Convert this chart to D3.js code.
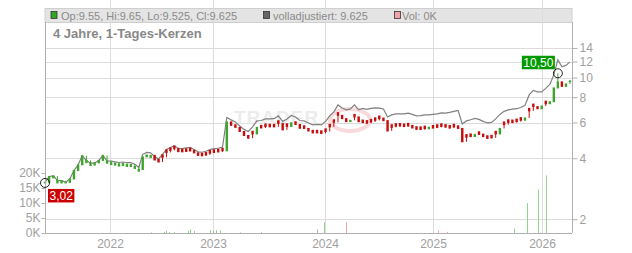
<!DOCTYPE html>
<html><head><meta charset="utf-8">
<script src="https://cdnjs.cloudflare.com/ajax/libs/d3/7.8.5/d3.min.js"></script>
<style>body{margin:0;background:#fff}svg{display:block;font-family:"Liberation Sans",Arial,sans-serif}</style>
</head><body><svg id="c" width="632" height="253"></svg>
<script>
// ---- data ----
const startDate = "2021-05-26";
const stepDays = 14;
const closes = [
3.04,3.25,3.27,3.11,3.10,3.04,3.16,3.48,3.71,4.11,
3.90,3.78,3.79,3.90,4.13,3.88,3.80,3.78,3.75,3.77,
3.73,3.73,3.64,3.52,4.06,4.15,4.13,3.92,3.83,4.04,
4.27,4.37,4.46,4.31,4.30,4.32,4.35,4.25,4.13,4.11,
4.15,4.24,4.27,4.30,4.35,6.04,5.81,5.68,5.42,5.18,
5.02,5.27,5.68,5.64,5.73,5.71,5.71,5.94,5.52,5.74,
5.98,5.87,5.62,5.61,5.45,5.33,5.33,5.30,5.42,5.71,
6.01,6.51,6.27,6.06,6.15,6.39,6.06,5.99,5.95,6.04,
6.15,6.27,6.13,5.45,5.68,5.75,5.76,5.73,5.77,5.64,
5.55,5.54,5.59,5.69,5.63,5.68,5.74,5.69,5.63,5.71,
5.61,4.82,5.08,5.12,5.24,5.24,5.11,5.01,5.04,5.27,
5.61,5.86,6.01,5.99,6.06,6.16,6.32,6.85,7.19,7.02,
7.24,7.43,7.60,8.89,9.52,9.05,9.30,9.63];
const opens = [
3.02,3.04,3.20,3.02,3.02,3.02,3.04,3.16,3.48,3.71,
3.80,3.68,3.70,3.79,3.90,3.78,3.72,3.70,3.66,3.68,
3.64,3.64,3.56,3.45,3.52,4.06,4.03,4.13,3.95,4.16,
4.40,4.50,4.59,4.46,4.43,4.45,4.48,4.38,4.25,4.23,
4.27,4.37,4.40,4.43,4.48,4.35,6.04,5.85,5.68,5.42,
5.18,5.43,5.27,5.81,5.90,5.88,5.88,6.12,5.94,5.91,
5.74,6.05,5.87,5.78,5.61,5.49,5.49,5.46,5.58,5.88,
6.19,6.71,6.51,6.27,6.06,6.58,6.39,6.17,6.13,6.22,
6.33,6.46,6.31,6.13,5.85,5.92,5.93,5.90,5.94,5.81,
5.72,5.71,5.76,5.59,5.80,5.85,5.91,5.86,5.80,5.88,
5.78,5.61,5.23,5.27,5.12,5.40,5.26,5.16,5.19,5.43,
5.27,6.04,6.19,6.17,6.24,6.34,6.16,7.05,7.40,7.19,
7.02,7.65,7.43,7.60,8.89,9.52,9.05,9.55];
const adjusted = [
3.04,3.25,3.27,3.11,3.10,3.04,3.16,3.48,3.71,4.11,
3.90,3.78,3.79,3.90,4.13,3.88,3.87,3.84,3.81,3.83,
3.80,3.81,3.73,3.60,4.18,4.27,4.25,4.08,3.97,4.18,
4.42,4.52,4.61,4.47,4.46,4.50,4.52,4.42,4.30,4.28,
4.33,4.41,4.46,4.48,4.54,6.36,6.18,6.04,5.77,5.55,
5.42,5.71,6.11,6.14,6.25,6.25,6.27,6.47,6.08,6.25,
6.50,6.39,6.14,6.11,5.97,5.84,5.87,5.84,6.08,6.47,
6.77,7.33,7.08,6.93,7.00,7.33,6.93,7.04,6.96,7.04,
7.08,7.06,7.00,6.39,6.54,6.62,6.62,6.62,6.67,6.58,
6.47,6.49,6.54,6.54,6.58,6.62,6.69,6.67,6.73,6.81,
6.89,5.90,6.11,6.19,6.29,6.22,6.08,5.97,6.01,6.25,
6.58,6.81,6.93,6.98,7.02,7.12,7.29,8.21,8.64,8.50,
8.50,8.84,9.25,10.31,12.22,11.29,11.48,11.95];
const volDates = ["2022-05-25","2022-07-11","2022-07-18","2022-07-28","2022-08-15","2022-10-03","2022-10-10","2022-10-27","2022-12-21","2023-01-02","2023-01-11","2023-01-25","2023-03-31","2023-06-06","2023-12-06","2023-12-28","2024-03-12","2025-01-17","2025-02-17","2025-09-30","2025-11-12","2025-12-18","2026-01-16"];
const volValues = [0.2,0.4,0.7,0.3,0.3,0.7,1.2,0.7,0.9,0.8,0.9,0.9,0.2,0.3,1.2,3.6,3.6,0.9,0.4,1.5,10,14.5,19.2];
const volDir = ["up","up","up","up","up","up","up","flat","up","flat","flat","up","up","up","flat","up","down","down","down","up","up","up","up"];
const priceTicks = [2,4,6,8,10,12,14];
const volTicks = [0,5,10,15,20];
const yearTicks = ["2022-01-01","2023-01-01","2024-01-01","2025-01-01","2026-01-01"];
const axisBreaks = ["2021-05-26","2022-01-01","2023-01-01","2024-01-01","2025-01-01","2026-01-01","2026-04-15"];
const minMark = {i:0, value:3.02, label:"3,02"};
const maxMark = {i:124, value:10.50, label:"10,50"};
const legendTexts = ["Op:9.55, Hi:9.65, Lo:9.525, Cl:9.625","volladjustiert: 9.625","Vol: 0K"];
const title = "4 Jahre, 1-Tages-Kerzen";

// ---- layout ----
const L=45, R=572, T=22, B=233;
const parse = d3.timeParse("%Y-%m-%d");
const t0 = parse(startDate);
const dates = closes.map((_,i)=>d3.timeDay.offset(t0, i*stepDays));
const svg = d3.select("#c");
const x = d3.scaleTime().domain(axisBreaks.map(parse)).range([45,110,213,325,433,542,572]);
const y = d3.scaleLog().domain([1.71,18.8]).range([B,T]);
const yv = d3.scaleLinear().domain([0,70.33]).range([B,T]);
const GRID="#dcdcdc", TXT="#a0a0a0";

// legend bar
svg.append("rect").attr("x",L).attr("y",8.5).attr("width",R-L).attr("height",14).attr("fill","#e4e4e4").attr("stroke","#cfcfcf");

// gridlines
svg.append("g").selectAll("line").data(priceTicks).join("line")
  .attr("x1",L).attr("x2",R).attr("y1",d=>Math.round(y(d))+0.5).attr("y2",d=>Math.round(y(d))+0.5)
  .attr("stroke",GRID);
svg.append("g").selectAll("line").data(yearTicks.map(parse)).join("line")
  .attr("x1",d=>Math.round(x(d))+0.5).attr("x2",d=>Math.round(x(d))+0.5).attr("y1",0).attr("y2",B)
  .attr("stroke",GRID);

// watermark
svg.append("text").attr("x",234).attr("y",124).attr("font-size",19).attr("font-weight","bold")
  .attr("fill","#ececec").attr("letter-spacing",1).text("TRADER");
svg.append("ellipse").attr("cx",350).attr("cy",120).attr("rx",20).attr("ry",11)
  .attr("fill","none").attr("stroke","#f9dadc").attr("stroke-width",4);

// volume
const volColor = {up:"#8fd48f", down:"#f0a3ab", flat:"#b5b5b5"};
svg.append("g").selectAll("rect").data(volDates).join("rect")
  .attr("x",(d)=>Math.round(x(parse(d)))).attr("width",1)
  .attr("y",(d,i)=>yv(volValues[i])).attr("height",(d,i)=>B-yv(volValues[i]))
  .attr("fill",(d,i)=>volColor[volDir[i]]);

// adjusted line
svg.append("path").datum(adjusted)
  .attr("d",d3.line().x((d,i)=>x(dates[i])).y(d=>y(d)))
  .attr("fill","none").attr("stroke","#808080").attr("stroke-width",1.2);

// candles
const UP="#3fa52f", DN="#c40d0d";
const col = (i)=>closes[i]>=opens[i]?UP:DN;
// wicks: range spanned since the previous close
svg.append("g").selectAll("line").data(closes).join("line")
  .attr("x1",(d,i)=>x(dates[i])).attr("x2",(d,i)=>x(dates[i]))
  .attr("y1",(d,i)=>y(Math.max(d,opens[i],i>0?closes[i-1]:d)))
  .attr("y2",(d,i)=>y(Math.min(d,opens[i],i>0?closes[i-1]:d)))
  .attr("stroke",(d,i)=>col(i)).attr("stroke-width",1);
svg.append("g").selectAll("rect").data(closes).join("rect")
  .attr("x",(d,i)=>x(dates[i])-1.2).attr("width",2.4)
  .attr("y",(d,i)=>Math.min(y(d),y(opens[i]))-0.5)
  .attr("height",(d,i)=>Math.max(1.5,Math.abs(y(d)-y(opens[i]))+1))
  .attr("fill",(d,i)=>col(i));
// high wick for max candle
svg.append("line").attr("x1",x(dates[maxMark.i])).attr("x2",x(dates[maxMark.i]))
  .attr("y1",y(maxMark.value)).attr("y2",y(closes[maxMark.i])).attr("stroke",UP).attr("stroke-width",1);

// axes
const axR = svg.append("g").attr("transform",`translate(${R+0.5},0)`)
  .call(d3.axisRight(y).tickValues(priceTicks).tickFormat(d3.format("d")).tickSize(5).tickPadding(2));
const axL = svg.append("g").attr("transform",`translate(${L+0.5},0)`)
  .call(d3.axisLeft(yv).tickValues(volTicks).tickFormat(d=>d+"K").tickSize(4).tickPadding(1));
const axB = svg.append("g").attr("transform",`translate(0,${B+0.5})`)
  .call(d3.axisBottom(x).tickValues(yearTicks.map(parse)).tickFormat(d3.timeFormat("%Y")).tickSize(0).tickPadding(6));
[axR,axL,axB].forEach(a=>{
  a.selectAll("text").attr("font-size",12).attr("fill",TXT).attr("font-family","Liberation Sans, Arial, sans-serif");
  a.selectAll("line").attr("stroke","#b0b0b0");
  a.select(".domain").attr("stroke","#b0b0b0");
});
axR.select(".domain").attr("d",`M0,${T}V${B}`);
axL.select(".domain").attr("d",`M0,${T}V${B}`);
axB.select(".domain").attr("d",`M${L},0H${R}`);

// legend
const lg = svg.append("g").attr("font-size",11).attr("fill","#8a8a8a");
const sq = [{x:51,c:"#33a61f"},{x:263.5,c:"#666"},{x:394.5,c:"#f0a3ab"}];
const tx = [61,273,402];
sq.forEach((s,k)=>{
  lg.append("rect").attr("x",s.x).attr("y",11.5).attr("width",6).attr("height",7).attr("fill",s.c).attr("stroke","#333").attr("stroke-width",0.8);
  lg.append("text").attr("x",tx[k]).attr("y",19.5).text(legendTexts[k]);
});

// title
svg.append("text").attr("x",53).attr("y",38).attr("font-size",13).attr("font-weight","bold").attr("fill","#888").text(title);

// min / max markers
function marker(m, color, below){
  const cx = x(dates[m.i]), cy = y(m.value);
  const g = svg.append("g");
  const t = g.append("text").attr("font-size",12).attr("fill","#fff").text(m.label);
  const w = t.node().getComputedTextLength()+3;
  let bx, by;
  if(below){ bx = cx+3; by = cy+6; } else { bx = cx-3-w; by = cy-17.5; }
  g.insert("rect","text").attr("x",bx).attr("y",by).attr("width",w).attr("height",13.5).attr("fill",color);
  t.attr("x",bx+1.5).attr("y",by+11);
  svg.append("circle").attr("cx",cx).attr("cy",cy).attr("r",4.5).attr("fill","none").attr("stroke","#222").attr("stroke-width",1);
}
marker(minMark,"#cc0000",true);
marker(maxMark,"#009a00",false);
</script></body></html>
